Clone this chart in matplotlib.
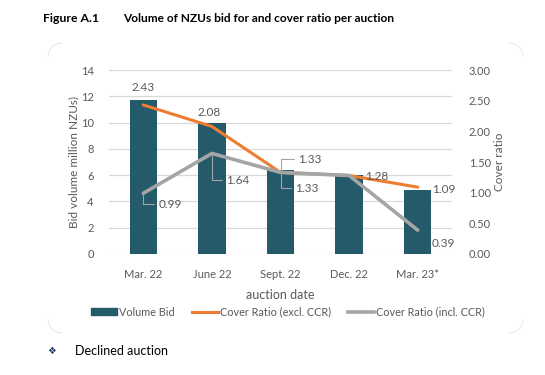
import matplotlib
matplotlib.use("Agg")
import matplotlib.pyplot as plt
from matplotlib.patches import Arc, Patch
from matplotlib.lines import Line2D
import numpy as np

plt.rcParams['font.family'] = ['Lato', 'DejaVu Sans']

# ---- data ----
categories = ["Mar. 22", "June 22", "Sept. 22", "Dec. 22", "Mar. 23*"]
volume_bid = [11.7, 10.0, 6.4, 6.0, 4.85]
cover_excl = [2.43, 2.08, 1.33, 1.28, 1.09]
cover_incl = [0.99, 1.64, 1.33, 1.28, 0.39]
left_ticks = [0, 2, 4, 6, 8, 10, 12, 14]
right_ticks = [0.0, 0.5, 1.0, 1.5, 2.0, 2.5, 3.0]

BAR = '#245A6A'
ORANGE = '#ED7D31'
GRAY = '#A5A5A5'
TXT = '#595959'
GRID = '#D9D9D9'

W, H = 545, 375
fig = plt.figure(figsize=(W / 100, H / 100), dpi=100)

# axes in pixel-derived fractions
x0, x1, ytop, ybot = 109, 452, 70, 254
ax = fig.add_axes([x0 / W, 1 - ybot / H, (x1 - x0) / W, (ybot - ytop) / H])
x = np.arange(len(categories))
ax.bar(x, volume_bid, width=0.4, color=BAR, zorder=2)
ax.set_xlim(-0.5, len(categories) - 0.5)
ax.set_ylim(0, 14)
ax.set_yticks(left_ticks)
ax.set_xticks(x)
ax.set_xticklabels(categories)
ax.yaxis.grid(True, color=GRID, lw=0.9, zorder=0)
ax.set_axisbelow(True)
for s in ax.spines.values():
    s.set_visible(False)
ax.tick_params(axis='both', length=0, labelsize=8, colors=TXT)
ax.tick_params(axis='y', pad=11)
ax.tick_params(axis='x', pad=11)
ax.set_ylabel("Bid volume million NZUs)", fontsize=8.5, color=TXT, labelpad=1)
ax.set_xlabel("auction date", fontsize=9, color=TXT, labelpad=6)

ax2 = ax.twinx()
ax2.set_ylim(0, 3)
ax2.set_yticks(right_ticks)
ax2.set_yticklabels([f"{v:.2f}" for v in right_ticks])
for s in ax2.spines.values():
    s.set_visible(False)
ax2.tick_params(axis='y', length=0, labelsize=8, colors=TXT, pad=12)
ax2.set_ylabel("Cover ratio", fontsize=8.5, color=TXT, labelpad=2)
ax2.plot(x, cover_excl, color=ORANGE, lw=2.2, zorder=3, solid_capstyle='round')
ax2.plot(x, cover_incl, color=GRAY, lw=2.6, zorder=4, solid_capstyle='round')

# data labels (pixel offsets from each point, y up)
lab_kw = dict(fontsize=8.5, color=TXT, textcoords='offset pixels', zorder=6)
leader = dict(arrowstyle='-', color=GRAY, lw=0.8, shrinkA=1, shrinkB=0,
              connectionstyle='angle,angleA=0,angleB=90', relpos=(0, 0.5))
# excl labels
excl_offsets = [(0, 17, 'center', None), (-3, 14, 'center', None),
                (18, 13, 'left', leader), (16, -1, 'left', None), (14, -2, 'left', None)]
for i, (v, (dx, dy, ha, ap)) in enumerate(zip(cover_excl, excl_offsets)):
    ax2.annotate(f"{v:.2f}", xy=(x[i], v), xytext=(dx, dy), ha=ha, va='center',
                 arrowprops=ap, **lab_kw)
# incl labels
incl_offsets = [(15, -11, 'left', leader), (14, -27, 'left', leader),
                (15, -16, 'left', leader), None, (14, -13, 'left', None)]
for i, (v, off) in enumerate(zip(cover_incl, incl_offsets)):
    if off is None:
        continue
    dx, dy, ha, ap = off
    ax2.annotate(f"{v:.2f}", xy=(x[i], v), xytext=(dx, dy), ha=ha, va='center',
                 arrowprops=ap, **lab_kw)

# legend
handles = [Patch(facecolor=BAR, edgecolor=BAR),
           Line2D([], [], color=ORANGE, lw=2.2),
           Line2D([], [], color=GRAY, lw=2.6)]
labels = ["Volume Bid", "Cover Ratio (excl. CCR)", "Cover Ratio (incl. CCR)"]
leg = fig.legend(handles, labels, loc='center', bbox_to_anchor=(288 / W, 1 - 312 / H),
                 ncol=3, frameon=False, fontsize=7.8, handlelength=2.4,
                 handleheight=0.6, handletextpad=0.15, columnspacing=1.6)
for t in leg.get_texts():
    t.set_color(TXT)

# overlay for title, frame corners, footnote
ov = fig.add_axes([0, 0, 1, 1], zorder=-1)
ov.set_xlim(0, W)
ov.set_ylim(H, 0)
ov.axis('off')
ov.text(43, 18, "Figure A.1", fontsize=8.8, fontweight='bold', va='center', ha='left')
ov.text(123, 18, "Volume of NZUs bid for and cover ratio per auction", fontsize=8.6,
        fontweight='bold', va='center', ha='left')
r = 14
bl, bt, br, bb = 48, 43, 523, 333
corner = dict(width=2 * r, height=2 * r, color='#E3E3E3', lw=0.6)
ov.add_patch(Arc((bl + r, bt + r), theta1=180, theta2=270, **corner))
ov.add_patch(Arc((br - r, bt + r), theta1=270, theta2=360, **corner))
ov.add_patch(Arc((bl + r, bb - r), theta1=90, theta2=180, **corner))
ov.add_patch(Arc((br - r, bb - r), theta1=0, theta2=90, **corner))
ov.text(52, 351, "\u2756", fontsize=7, color='#1F3864', va='center', ha='center',
        family=['DejaVu Sans'])
ov.text(75, 351, "Declined auction", fontsize=9, color='black', va='center', ha='left')

fig.savefig("out.png", dpi=100)
